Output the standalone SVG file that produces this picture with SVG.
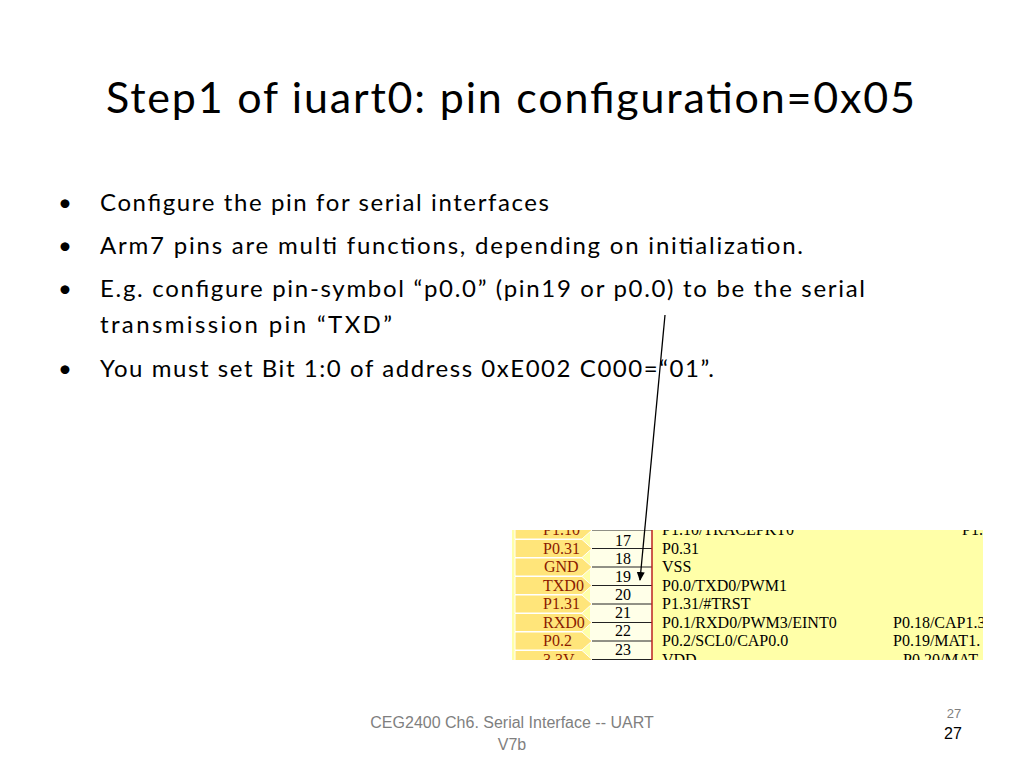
<svg xmlns="http://www.w3.org/2000/svg" width="1024" height="768" viewBox="0 0 1024 768">
<style>
.t{font-family:Lato,"Open Sans",sans-serif;fill:#000}
.b{font-family:Lato,"Open Sans",sans-serif;font-size:24px;fill:#000}
.lab{font-family:"Liberation Serif",serif;font-size:16px;fill:#8B1A00}
.num{font-family:"Liberation Serif",serif;font-size:16px;fill:#000}
.fn{font-family:"Liberation Serif",serif;font-size:16px;fill:#000}
.tab{fill:#FFE57A;stroke:#fff;stroke-width:1}
</style>
<defs><marker id="ah" markerWidth="10" markerHeight="10" refX="8" refY="5" orient="auto" markerUnits="userSpaceOnUse"><path d="M0,1 L9,5 L0,9 z" fill="#000"/></marker></defs>
<rect width="1024" height="768" fill="#fff"/>
<text class="t" x="106" y="113" font-size="43" textLength="809">Step1 of iuart0: pin configuration=0x05</text>
<g id="bullets">
<text class="b" x="58" y="211">•</text><text class="b" x="100" y="211" textLength="449">Configure the pin for serial interfaces</text>
<text class="b" x="58" y="254">•</text><text class="b" x="100" y="254" textLength="703">Arm7 pins are multi functions, depending on initialization.</text>
<text class="b" x="58" y="297">•</text><text class="b" x="100" y="297" textLength="765">E.g. configure pin-symbol “p0.0” (pin19 or p0.0) to be the serial</text>
<text class="b" x="100" y="333" textLength="292">transmission pin “TXD”</text>
<text class="b" x="58" y="377">•</text><text class="b" x="100" y="377" textLength="614">You must set Bit 1:0 of address 0xE002 C000=“01”.</text>
</g>
<g id="chip">
<rect x="512" y="530" width="471" height="130" fill="#FFFFA8"/>
<rect x="590" y="530" width="62" height="130" fill="#FFFFE8"/>
<g>
<polygon class="tab" points="515,521 582,521 592,530 582,539 515,539"/>
<polygon class="tab" points="515,539.5 582,539.5 592,548.5 582,557.5 515,557.5"/>
<polygon class="tab" points="515,558 582,558 592,567 582,576 515,576"/>
<polygon class="tab" points="515,576.5 582,576.5 592,585.5 582,594.5 515,594.5"/>
<polygon class="tab" points="515,595 582,595 592,604 582,613 515,613"/>
<polygon class="tab" points="515,613.5 582,613.5 592,622.5 582,631.5 515,631.5"/>
<polygon class="tab" points="515,632 582,632 592,641 582,650 515,650"/>
<polygon class="tab" points="515,650.5 582,650.5 592,659.5 582,668.5 515,668.5"/>
</g>
<g stroke="#222" stroke-width="1">
<line x1="592" y1="530" x2="652" y2="530"/>
<line x1="592" y1="548.5" x2="652" y2="548.5"/><line x1="592" y1="567" x2="652" y2="567"/>
<line x1="592" y1="585.5" x2="652" y2="585.5"/><line x1="592" y1="604" x2="652" y2="604"/>
<line x1="592" y1="622.5" x2="652" y2="622.5"/><line x1="592" y1="641" x2="652" y2="641"/>
<line x1="592" y1="659.5" x2="652" y2="659.5"/>
</g>
<line x1="652" y1="530" x2="652" y2="660" stroke="#B22" stroke-width="1.5"/>
<text class="lab" x="543" y="535">P1.10</text>
<text class="lab" x="543" y="554">P0.31</text>
<text class="lab" x="544" y="572">GND</text>
<text class="lab" x="543" y="591">TXD0</text>
<text class="lab" x="543" y="609">P1.31</text>
<text class="lab" x="543" y="628">RXD0</text>
<text class="lab" x="543" y="646">P0.2</text>
<text class="lab" x="543" y="665">3.3V</text>
<text class="num" x="615" y="546">17</text>
<text class="num" x="615" y="564">18</text>
<text class="num" x="615" y="582">19</text>
<text class="num" x="615" y="600">20</text>
<text class="num" x="615" y="618">21</text>
<text class="num" x="615" y="636">22</text>
<text class="num" x="615" y="655">23</text>
<text class="fn" x="662" y="535">P1.10/TRACEPKT0</text>
<text class="fn" x="662" y="554">P0.31</text>
<text class="fn" x="662" y="572">VSS</text>
<text class="fn" x="662" y="591">P0.0/TXD0/PWM1</text>
<text class="fn" x="662" y="609">P1.31/#TRST</text>
<text class="fn" x="662" y="628">P0.1/RXD0/PWM3/EINT0</text>
<text class="fn" x="662" y="646">P0.2/SCL0/CAP0.0</text>
<text class="fn" x="662" y="665">VDD</text>
<text class="fn" x="893" y="628">P0.18/CAP1.3</text>
<text class="fn" x="893" y="646">P0.19/MAT1.</text>
<text class="fn" x="903" y="665">P0.20/MAT</text>
<text class="fn" x="962" y="535">P1.</text>
<rect x="983" y="515" width="41" height="160" fill="#fff"/>
<rect x="505" y="660" width="490" height="12" fill="#fff"/>
<rect x="505" y="515" width="490" height="15" fill="#fff"/>
</g>
<g id="connectors">
<line x1="665" y1="315" x2="640" y2="580" stroke="#000" stroke-width="1.3" marker-end="url(#ah)"/>
</g>
<g font-family="'Liberation Sans',Arial,sans-serif">
<text x="512" y="728" font-size="16" fill="#7f7f7f" text-anchor="middle">CEG2400 Ch6. Serial Interface -- UART</text>
<text x="512" y="750" font-size="16" fill="#7f7f7f" text-anchor="middle">V7b</text>
<text x="954" y="718" font-size="13" fill="#7f7f7f" text-anchor="middle">27</text>
<text x="953" y="739" font-size="16" fill="#000" text-anchor="middle">27</text>
</g>
</svg>
